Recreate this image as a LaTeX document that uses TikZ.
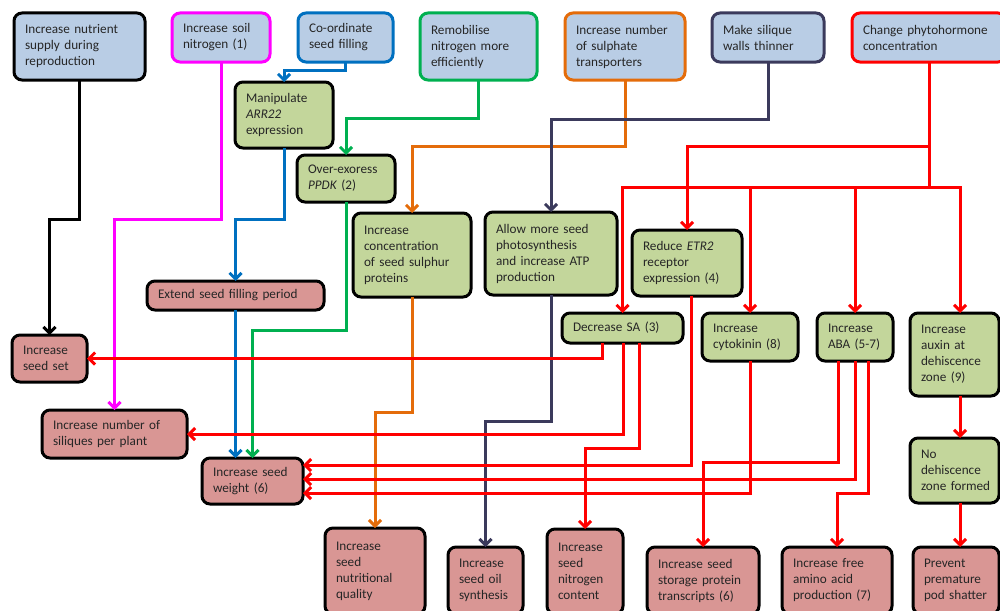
\documentclass[tikz,border=0pt]{standalone}
\usepackage{fontspec}
\setmainfont{Carlito}
\usetikzlibrary{arrows.meta}
\definecolor{fblue}{HTML}{B9CDE5}
\definecolor{fgreen}{HTML}{C3D69B}
\definecolor{fpink}{HTML}{D99694}
\definecolor{cmag}{HTML}{FF00FF}
\definecolor{cblue}{HTML}{0070C0}
\definecolor{cgreen}{HTML}{00B050}
\definecolor{corange}{HTML}{E46C0A}
\definecolor{cnavy}{HTML}{3B3A5C}
\definecolor{cred}{HTML}{FF0000}
\definecolor{txt}{HTML}{262626}
\hyphenpenalty=10000
\exhyphenpenalty=10000
\newcommand\bx[7]{%
 \pgfmathsetmacro\bxw{#4-#2}\pgfmathsetmacro\bxh{#5-#3}\pgfmathsetmacro\bxt{#4-#2-22}%
 \pgfmathsetmacro\bxcx{(#2+#4)/2}\pgfmathsetmacro\bxcy{(#3+#5)/2}%
 \node[box,#6,minimum width=\bxw pt,minimum height=\bxh pt,text width=\bxt pt] (#1) at (\bxcx,\bxcy) {#7};}
\tikzset{
 box/.style={draw=black, line width=3pt, rounded corners=8pt, align=left, inner xsep=11pt, inner ysep=3pt, outer sep=0pt, text=txt, font=\fontsize{13.2}{16}\selectfont},
 bl/.style={fill=fblue}, gr/.style={fill=fgreen}, pk/.style={fill=fpink},
 con/.style={line width=3pt, -{Straight Barb[length=6pt,width=12pt]}},
}
\begin{document}
\begin{tikzpicture}[x=1pt,y=-1pt]
\useasboundingbox (0,0) rectangle (1000,610);
\clip (0,0) rectangle (1000,610);
% top row
\bx{nutr}{14}{13}{145}{80}{bl}{Increase nutrient\\supply during\\reproduction}
\bx{soil}{172}{13}{270}{62}{bl,draw=cmag}{Increase soil\\nitrogen (1)}
\bx{coord}{298}{13}{393}{62}{bl,draw=cblue}{Co-ordinate\\seed filling}
\bx{remob}{420}{13}{537}{80}{bl,draw=cgreen}{Remobilise\\nitrogen more\\efficiently}
\bx{sulph}{565}{13}{685}{80}{bl,draw=corange}{Increase number\\of sulphate\\transporters}
\bx{walls}{712}{13}{824}{62}{bl,draw=cnavy}{Make silique\\walls thinner}
\bx{phyto}{852}{13}{1006}{62}{bl,draw=cred}{Change phytohormone\\concentration}
% middle
\bx{arr}{235}{82}{333}{148}{gr}{Manipulate\\\textit{ARR22}\\expression}
\bx{ppdk}{297}{155}{395}{202}{gr}{Over-exoress\\\textit{PPDK}~(2)}
\bx{sulpro}{353}{213}{471}{297}{gr}{Increase\\concentration\\of seed sulphur\\proteins}
\bx{photo}{485}{212}{617}{295}{gr}{Allow more seed\\photosynthesis\\and increase ATP\\production}
\bx{etr}{632}{230}{742}{296}{gr}{Reduce \textit{ETR2}\\receptor\\expression~(4)}
\bx{sa}{562}{313}{683}{343}{gr}{Decrease SA (3)}
\bx{cyto}{702}{313}{798}{361}{gr}{Increase\\cytokinin~(8)}
\bx{aba}{817}{313}{893}{361}{gr}{Increase\\ABA~(5-7)}
\bx{auxin}{910}{313}{999}{396}{gr}{Increase\\auxin~at\\dehiscence\\zone~(9)}
\bx{nodeh}{910}{438}{999}{503}{gr}{No\\dehiscence\\zone~formed}
% outcomes
\bx{extend}{147}{281}{324}{310}{pk}{Extend seed filling period}
\bx{seedset}{12}{335}{87}{382}{pk}{Increase\\seed~set}
\bx{siliq}{42}{410}{187}{458}{pk}{Increase number of\\siliques per plant}
\bx{weight}{202}{458}{303}{504}{pk}{Increase seed\\weight~(6)}
\bx{nutq}{325}{528}{425}{614}{pk}{Increase\\seed\\nutritional\\quality}
\bx{oil}{448}{547}{523}{614}{pk}{Increase\\seed~oil\\synthesis}
\bx{nitro}{547}{529}{623}{614}{pk}{Increase\\seed\\nitrogen\\content}
\bx{store}{647}{547}{759}{614}{pk}{Increase seed\\storage protein\\transcripts~(6)}
\bx{amino}{782}{547}{892}{614}{pk}{Increase free\\amino acid\\production~(7)}
\bx{pod}{913}{547}{999}{614}{pk}{Prevent\\premature\\pod~shatter}
% connectors
\draw[con,black] (nutr.south) -- ++(0,139) -| (seedset.north);
\draw[con,cmag] (soil.south) -- ++(0,157) -| (siliq.north);
\draw[con,cblue] (coord.south) -- ++(0,8) -| (arr.north);
\draw[con,cblue] (arr.south) -- ++(0,71) -| (extend.north);
\draw[con,cblue] (extend.south) -- ([xshift=-17pt]weight.north);
\draw[con,cgreen] (remob.south) -- ++(0,38) -| (ppdk.north);
\draw[con,cgreen] (ppdk.south) -- ++(0,128) -| (weight.north);
\draw[con,corange] (sulph.south) -- ++(0,66) -| (sulpro.north);
\draw[con,corange] (sulpro.south) -- ++(0,115) -| (nutq.north);
\draw[con,cnavy] (walls.south) -- ++(0,57) -| (photo.north);
\draw[con,cnavy] (photo.south) -- ++(0,126) -| (oil.north);
\draw[con,cred] (phyto.south) -- ++(0,84) -| (etr.north);
\draw[con,cred] (phyto.south) -- ++(0,125) -| (sa.north);
\draw[con,cred] (phyto.south) -- ++(0,125) -| (cyto.north);
\draw[con,cred] (phyto.south) -- ++(0,125) -| (aba.north);
\draw[con,cred] (phyto.south) -- ++(0,125) -| ([xshift=5.5pt]auxin.north);
\draw[con,cred] ([xshift=-20.5pt]sa.south) |- (seedset.east);
\draw[con,cred] ([xshift=0.5pt]sa.south) |- (siliq.east);
\draw[con,cred] ([xshift=16.5pt]sa.south) -- ++(0,105) -| (nitro.north);
\draw[con,cred] ([xshift=4pt]etr.south) |- ([yshift=16pt]weight.east);
\draw[con,cred] (aba.south) |- ([yshift=2pt]weight.east);
\draw[con,cred] (cyto.south) |- ([yshift=-12pt]weight.east);
\draw[con,cred] ([xshift=-17pt]aba.south) -- ++(0,101) -| (store.north);
\draw[con,cred] ([xshift=13pt]aba.south) -- ++(0,132) -| (amino.north);
\draw[con,cred] ([xshift=5.5pt]auxin.south) -- ([xshift=5.5pt]nodeh.north);
\draw[con,cred] ([xshift=5.5pt]nodeh.south) -- ([xshift=4pt]pod.north);
\end{tikzpicture}
\end{document}
